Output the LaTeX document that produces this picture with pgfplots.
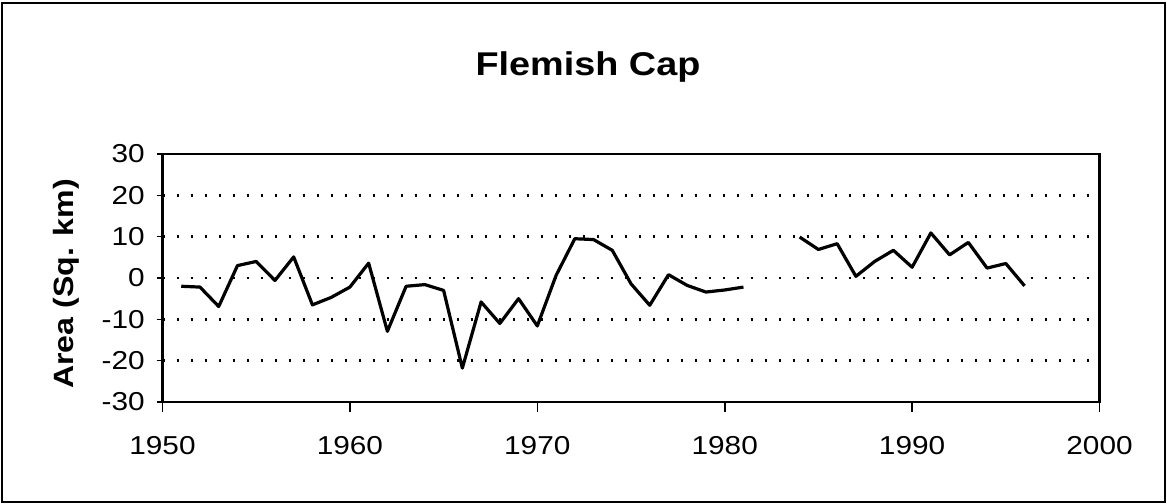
\documentclass[border=0pt]{standalone}
\usepackage{pgfplots}
\pgfplotsset{compat=1.18}
\usepackage{fontspec}
\setmainfont{Liberation Sans}[FakeStretch=1.15]
\begin{document}
\begin{tikzpicture}[x=1bp,y=1bp]
\useasboundingbox (0,0) rectangle (1167,504);
\draw[line width=1.2bp] (2,2) rectangle (1165,501);
\begin{axis}[at={(162.5bp,102bp)}, anchor=south west, scale only axis,
  width=937bp, height=248bp,
  xmin=1950, xmax=2000, ymin=-30, ymax=30,
  xtick={1950,1960,...,2000}, ytick={-30,-20,...,30},
  /pgf/number format/assume math mode=true,
  x tick label style={/pgf/number format/1000 sep={}, yshift=-27bp},
  y tick label style={xshift=-10bp},
  tick label style={font=\fontsize{26}{26}\selectfont},
  tickpos=left, tick align=outside,
  xtick style={line width=1.6bp, black},
  ytick style={line width=1.6bp, black},
  x tick style={/pgfplots/major tick length=10bp},
  y tick style={/pgfplots/major tick length=6bp},
  axis line style={line width=2.2bp},
  ymajorgrids,
  grid style={black, line width=2.4bp, dash pattern=on 2bp off 12bp},
  unbounded coords=jump,
]
\addplot[black, line width=3.2bp, line join=round] coordinates {
(1951,-2.0) (1952,-2.2) (1953,-6.9) (1954,3.0) (1955,4.0) (1956,-0.6)
(1957,5.1) (1958,-6.5) (1959,-4.7) (1960,-2.2) (1961,3.6) (1962,-12.9)
(1963,-2.0) (1964,-1.6) (1965,-3.0) (1966,-21.8) (1967,-5.8) (1968,-11.0)
(1969,-5.0) (1970,-11.6) (1971,0.6) (1972,9.5) (1973,9.3) (1974,6.7)
(1975,-1.4) (1976,-6.6) (1977,0.8) (1978,-1.8) (1979,-3.4) (1980,-2.9)
(1981,-2.2) (1982,nan) (1983,nan) (1984,9.9) (1985,6.9) (1986,8.3)
(1987,0.4) (1988,4.0) (1989,6.7) (1990,2.6) (1991,10.9) (1992,5.6)
(1993,8.6) (1994,2.4) (1995,3.5) (1996,-1.9)
};
\end{axis}
\node[font=\bfseries\fontsize{33}{33}\selectfont] at (588,437) {Flemish Cap};
\node[font=\bfseries\fontsize{28}{28}\selectfont, rotate=90] at (66,220) {Area (Sq. km)};
\end{tikzpicture}
\end{document}
